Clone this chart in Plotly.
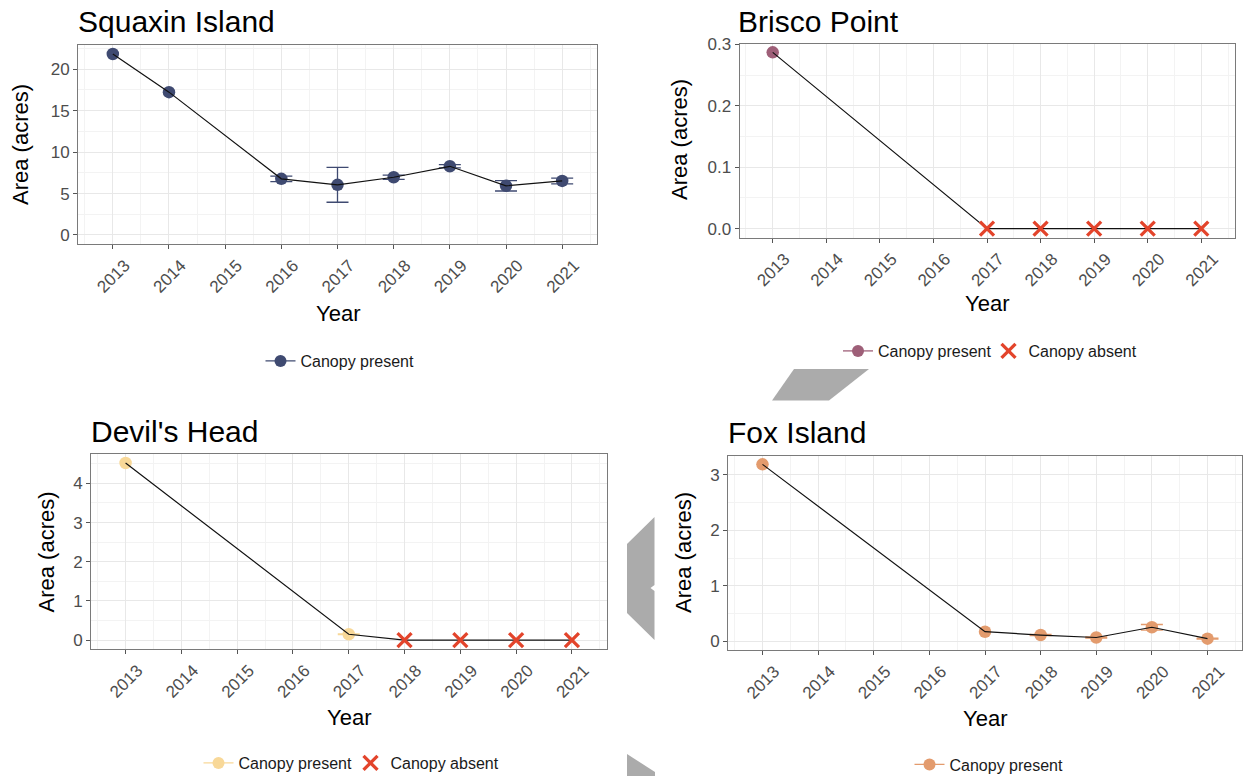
import plotly.graph_objects as go

W, H = 1243, 776

# ---------------- data ----------------
all_years = [2013, 2014, 2015, 2016, 2017, 2018, 2019, 2020, 2021]

squaxin_years = [2013, 2014, 2016, 2017, 2018, 2019, 2020, 2021]
squaxin_area = [21.84, 17.24, 6.78, 6.05, 6.97, 8.29, 5.93, 6.52]
squaxin_err = [None, None, 0.33, 2.1, 0.25, 0.2, 0.62, 0.35]

brisco_present_years = [2013]
brisco_present_area = [0.287]
brisco_err = [None]
brisco_absent_years = [2017, 2018, 2019, 2020, 2021]
brisco_absent_area = [0, 0, 0, 0, 0]

devil_present_years = [2013, 2017]
devil_present_area = [4.52, 0.15]
devil_err = [None, 0.01]
devil_absent_years = [2018, 2019, 2020, 2021]
devil_absent_area = [0, 0, 0, 0]

fox_years = [2013, 2017, 2018, 2019, 2020, 2021]
fox_area = [3.19, 0.17, 0.11, 0.066, 0.25, 0.045]
fox_err = [None, None, 0.01, 0.01, 0.05, 0.01]

squaxin_yticks = [0, 5, 10, 15, 20]
brisco_yticks = [0.0, 0.1, 0.2, 0.3]
devil_yticks = [0, 1, 2, 3, 4]
fox_yticks = [0, 1, 2, 3]

# ---------------- style ----------------
C_SQ = "#3F4A71"
C_BR = "#9E5F78"
C_DV = "#F8D898"
C_FX = "#E39B6D"
C_ABS = "#E3442B"
FONT = "Liberation Sans, Arial, sans-serif"

fig = go.Figure()


def px_x(v):
    return v / W


def px_y(v):
    return 1 - v / H


# panel boxes in pixels: (left, right, top, bottom)
panels = [
    dict(name="Squaxin Island", box=(78, 597, 45, 244), yr=[-1.09, 22.93], yt=squaxin_yticks, fmt=None,
         title_xy=(76, 21), xlab=(337.5, 313), ylab=(20, 145), mdt=2.5),
    dict(name="Brisco Point", box=(739.5, 1234.5, 43.5, 237.5), yr=[-0.0144, 0.3014], yt=brisco_yticks, fmt=".1f",
         title_xy=(736, 21), xlab=(987, 304), ylab=(679, 140), mdt=0.05),
    dict(name="Devil's Head", box=(91, 606.5, 454, 649), yr=[-0.226, 4.75], yt=devil_yticks, fmt=None,
         title_xy=(88.5, 431), xlab=(348.8, 717), ylab=(45.5, 552), mdt=0.5),
    dict(name="Fox Island", box=(728, 1242, 455.5, 650), yr=[-0.16, 3.35], yt=fox_yticks, fmt=None,
         title_xy=(726, 432), xlab=(985, 718), ylab=(683, 553), mdt=0.5),
]

annotations = []
for i, p in enumerate(panels, start=1):
    l, r, t, b = p["box"]
    xa = "xaxis" if i == 1 else f"xaxis{i}"
    ya = "yaxis" if i == 1 else f"yaxis{i}"
    xref = "x" if i == 1 else f"x{i}"
    yref = "y" if i == 1 else f"y{i}"
    fig.layout[xa] = dict(
        domain=[px_x(l), px_x(r)], anchor=yref, range=[2012.38, 2021.62],
        tickvals=all_years, ticktext=[str(y) for y in all_years], tickangle=-45,
        tickfont=dict(family=FONT, size=17, color="#4D4D4D"),
        ticklabelshift=12, ticklabelstandoff=0,
        showline=True, mirror=True, linecolor="#7A7A7A", linewidth=1,
        ticks="outside", ticklen=4, tickcolor="#555555",
        showgrid=True, gridcolor="#E8E8E8", gridwidth=1, zeroline=False,
        minor=dict(dtick=0.5, tick0=2012.5, showgrid=True, gridcolor="#F3F3F3", gridwidth=1, ticks=""),
    )
    yaxis = dict(
        domain=[px_y(b), px_y(t)], anchor=xref, range=p["yr"],
        tickvals=p["yt"],
        tickfont=dict(family=FONT, size=17, color="#4D4D4D"),
        showline=True, mirror=True, linecolor="#7A7A7A", linewidth=1,
        ticks="outside", ticklen=4, tickcolor="#555555",
        showgrid=True, gridcolor="#E8E8E8", gridwidth=1, zeroline=False,
        minor=dict(dtick=p["mdt"], tick0=p["mdt"], showgrid=True, gridcolor="#F3F3F3", gridwidth=1, ticks=""),
    )
    if p["fmt"]:
        yaxis["tickformat"] = p["fmt"]
    fig.layout[ya] = yaxis
    tx, ty = p["title_xy"]
    annotations.append(dict(text=p["name"], x=px_x(tx), y=px_y(ty), xref="paper", yref="paper",
                            xanchor="left", yanchor="middle", showarrow=False,
                            font=dict(family=FONT, size=30, color="#000000")))
    annotations.append(dict(text="Year", x=px_x(p["xlab"][0]), y=px_y(p["xlab"][1]), xref="paper", yref="paper",
                            xanchor="center", yanchor="middle", showarrow=False,
                            font=dict(family=FONT, size=22, color="#000000")))
    annotations.append(dict(text="Area (acres)", x=px_x(p["ylab"][0]), y=px_y(p["ylab"][1]), xref="paper",
                            yref="paper", xanchor="center", yanchor="middle", showarrow=False, textangle=-90,
                            font=dict(family=FONT, size=22, color="#000000")))


def present_traces(xs, ys, err, color, axes):
    """Markers without error info, plus markers with error bars."""
    plain = [(x, y) for x, y, e in zip(xs, ys, err) if e is None]
    witherr = [(x, y, e) for x, y, e in zip(xs, ys, err) if e is not None]
    out = []
    if plain:
        out.append(go.Scatter(x=[a for a, _ in plain], y=[b for _, b in plain], mode="markers",
                              xaxis=axes[0], yaxis=axes[1], showlegend=False,
                              marker=dict(size=12.5, color=color)))
    if witherr:
        out.append(go.Scatter(x=[a for a, _, _ in witherr], y=[b for _, b, _ in witherr], mode="markers",
                              xaxis=axes[0], yaxis=axes[1], showlegend=False,
                              marker=dict(size=12.5, color=color),
                              error_y=dict(type="data", array=[c for _, _, c in witherr], visible=True,
                                           color=color, thickness=1.3, width=11)))
    return out


def line_trace(xs, ys, axes):
    pairs = sorted(zip(xs, ys))
    return go.Scatter(x=[a for a, _ in pairs], y=[b for _, b in pairs], mode="lines",
                      xaxis=axes[0], yaxis=axes[1], showlegend=False,
                      line=dict(color="#111111", width=1.2))


def absent_trace(xs, ys, axes):
    return go.Scatter(x=xs, y=ys, mode="markers", xaxis=axes[0], yaxis=axes[1], showlegend=False,
                      marker=dict(symbol="x-thin-open", size=14, color=C_ABS,
                                  line=dict(color=C_ABS, width=3.3)))


def legend_present(color, leg):
    return go.Scatter(x=[None], y=[None], mode="lines+markers", name="Canopy present", legend=leg,
                      marker=dict(size=12, color=color), line=dict(color=color, width=1.3))


def legend_absent(leg):
    return go.Scatter(x=[None], y=[None], mode="markers", name="Canopy absent", legend=leg,
                      marker=dict(symbol="x-thin-open", size=14, color=C_ABS,
                                  line=dict(color=C_ABS, width=3.3)))


# Squaxin
fig.add_traces(present_traces(squaxin_years, squaxin_area, squaxin_err, C_SQ, ("x", "y")))
fig.add_trace(line_trace(squaxin_years, squaxin_area, ("x", "y")))
# Brisco
fig.add_traces(present_traces(brisco_present_years, brisco_present_area, brisco_err, C_BR, ("x2", "y2")))
fig.add_trace(line_trace(brisco_present_years + brisco_absent_years, brisco_present_area + brisco_absent_area,
                         ("x2", "y2")))
fig.add_trace(absent_trace(brisco_absent_years, brisco_absent_area, ("x2", "y2")))
# Devil's Head
fig.add_traces(present_traces(devil_present_years, devil_present_area, devil_err, C_DV, ("x3", "y3")))
fig.add_trace(line_trace(devil_present_years + devil_absent_years, devil_present_area + devil_absent_area,
                         ("x3", "y3")))
fig.add_trace(absent_trace(devil_absent_years, devil_absent_area, ("x3", "y3")))
# Fox Island
fig.add_traces(present_traces(fox_years, fox_area, fox_err, C_FX, ("x4", "y4")))
fig.add_trace(line_trace(fox_years, fox_area, ("x4", "y4")))

# legends
fig.add_trace(legend_present(C_SQ, "legend"))
fig.add_trace(legend_present(C_BR, "legend2"))
fig.add_trace(legend_absent("legend3"))
fig.add_trace(legend_present(C_DV, "legend4"))
fig.add_trace(legend_absent("legend5"))
fig.add_trace(legend_present(C_FX, "legend6"))

leg_pos = {"legend": (260.5, 361), "legend2": (838, 351), "legend3": (988.5, 351),
           "legend4": (198.5, 763), "legend5": (350.5, 763), "legend6": (909.5, 764.5)}
for k, (lx, ly) in leg_pos.items():
    fig.layout[k] = dict(x=px_x(lx), y=px_y(ly), xref="paper", yref="paper", xanchor="left", yanchor="middle",
                         orientation="h", bgcolor="rgba(0,0,0,0)", itemwidth=30,
                         font=dict(family=FONT, size=16, color="#1A1A1A"))

# decorative gray shapes
shapes = []
polys = [
    [(794, 369), (869, 369), (829, 400.5), (772, 400.5)],
    [(654.5, 517), (627, 544), (627, 613), (654.5, 640), (654.5, 591), (650.5, 588), (654.5, 585)],
    [(627, 754), (655, 772), (655, 776), (627, 776)],
]
for poly in polys:
    path = "M " + " L ".join(f"{px_x(a):.5f},{px_y(b):.5f}" for a, b in poly) + " Z"
    shapes.append(dict(type="path", path=path, xref="paper", yref="paper",
                       fillcolor="#ABABAB", line=dict(width=0), layer="above"))

fig.update_layout(
    width=W, height=H, margin=dict(l=0, r=0, t=0, b=0, pad=0, autoexpand=False),
    paper_bgcolor="white", plot_bgcolor="white",
    annotations=annotations, shapes=shapes,
    font=dict(family=FONT),
)

fig.write_html("out.html", config={"displayModeBar": False},
               post_script="document.body.style.margin='0';document.body.style.overflow='hidden';")
